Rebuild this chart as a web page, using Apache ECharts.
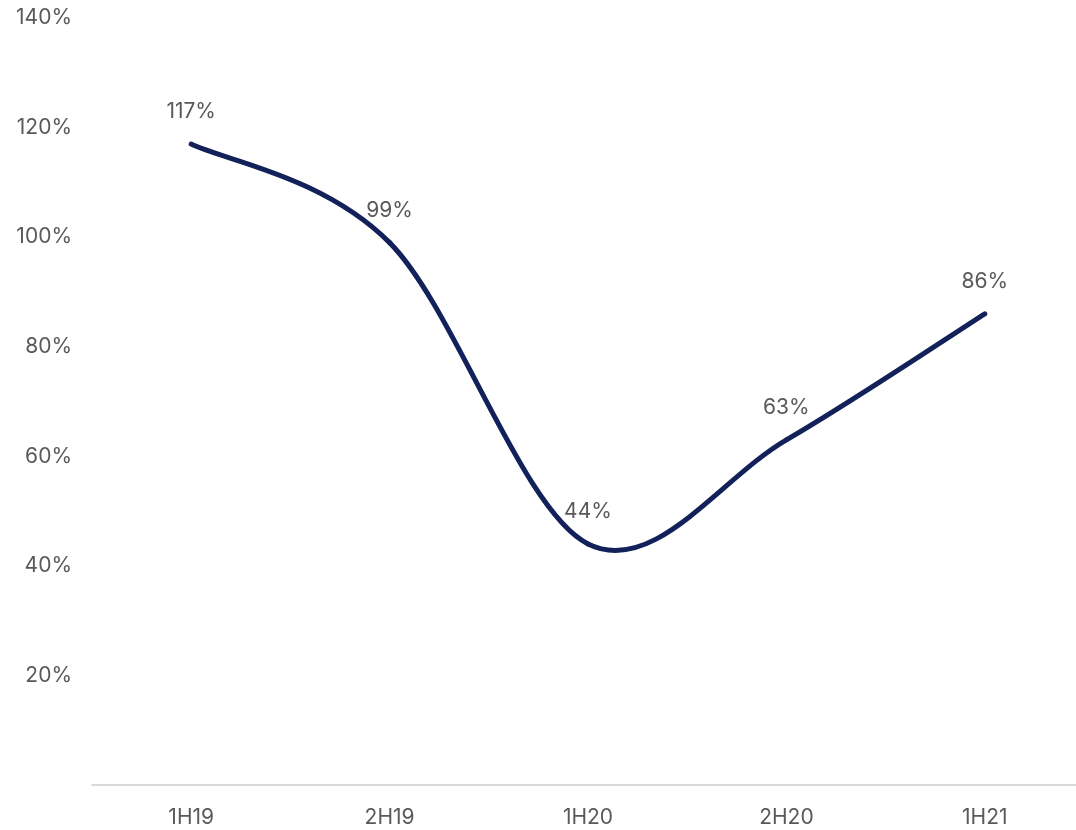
<!DOCTYPE html>
<html>
<head>
<meta charset="utf-8">
<script src="https://cdn.jsdelivr.net/npm/echarts@6/dist/echarts.min.js"></script>
<style>
html, body { margin: 0; padding: 0; background: #fff; }
#container { width: 1076px; height: 830px; }
</style>
</head>
<body>
<div id="container"></div>
<script>
var categories = ['1H19', '2H19', '1H20', '2H20', '1H21'];
var ratio = [117, 99, 44, 63, 86];

var dom = document.getElementById('container');
var myChart = echarts.init(dom);

// spreadsheet-style smoothing (catmull-rom, 1/6 tension) through the axis coords
function renderCurve(params, api) {
    if (params.dataIndex !== 0) return null;
    var pts = [];
    for (var i = 0; i < ratio.length; i++) {
        pts.push(api.coord([i, ratio[i]]));
    }
    var children = [];
    for (var j = 0; j < pts.length - 1; j++) {
        var p0 = pts[j - 1] || pts[j];
        var p1 = pts[j];
        var p2 = pts[j + 1];
        var p3 = pts[j + 2] || pts[j + 1];
        children.push({
            type: 'bezierCurve',
            shape: {
                x1: p1[0], y1: p1[1],
                cpx1: p1[0] + (p2[0] - p0[0]) / 6,
                cpy1: p1[1] + (p2[1] - p0[1]) / 6,
                cpx2: p2[0] - (p3[0] - p1[0]) / 6,
                cpy2: p2[1] - (p3[1] - p1[1]) / 6,
                x2: p2[0], y2: p2[1]
            },
            style: {
                stroke: '#12215a',
                lineWidth: 5,
                lineCap: 'round',
                fill: null
            }
        });
    }
    return { type: 'group', children: children };
}

var option = {
    backgroundColor: '#fff',
    textStyle: { fontFamily: 'Inter' },
    grid: {
        left: 92,
        top: 18,
        right: -8,
        bottom: 45,
        outerBoundsMode: 'none'
    },
    xAxis: {
        type: 'category',
        data: categories,
        boundaryGap: true,
        axisLine: { lineStyle: { color: '#d9d9d9', width: 2 } },
        axisTick: { show: false },
        axisLabel: { color: '#595959', fontSize: 21, margin: 22 }
    },
    yAxis: {
        type: 'value',
        min: 0,
        max: 140,
        interval: 20,
        axisLine: { show: false },
        axisTick: { show: false },
        splitLine: { show: false },
        axisLabel: {
            color: '#595959',
            fontSize: 21,
            margin: 20,
            formatter: function (v) { return v === 0 ? '' : v + '%'; }
        }
    },
    series: [
        {
            type: 'custom',
            data: ratio,
            renderItem: renderCurve,
            silent: true,
            z: 2
        },
        {
            type: 'line',
            data: ratio,
            symbol: 'circle',
            symbolSize: 1,
            itemStyle: { color: 'rgba(0,0,0,0)' },
            lineStyle: { width: 0, opacity: 0 },
            label: {
                show: true,
                position: 'top',
                distance: 21,
                color: '#595959',
                fontSize: 21,
                formatter: '{c}%'
            },
            z: 3
        }
    ]
};
myChart.setOption(option);
</script>
</body>
</html>
